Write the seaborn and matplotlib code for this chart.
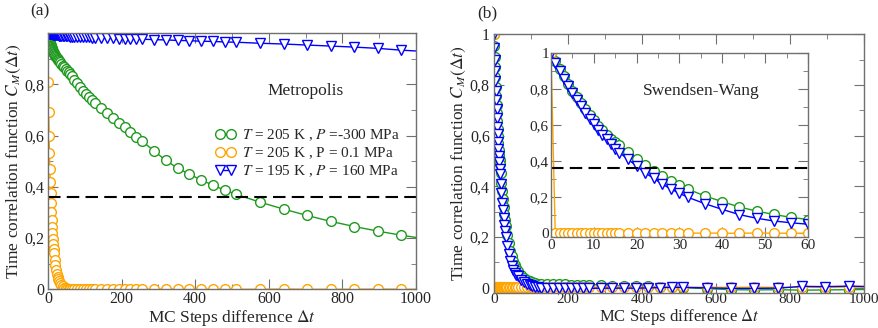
import numpy as np
import pandas as pd
import seaborn as sns
import matplotlib.pyplot as plt
from matplotlib.ticker import MultipleLocator, FuncFormatter

# 时间间隔 (multi-tau lags)
lag = [0, 1, 2, 3, 4, 5, 6, 7, 8, 9, 10, 11, 12, 13, 14, 15,
       16, 18, 20, 22, 24, 26, 28, 30,
       32, 36, 40, 44, 48, 52, 56, 60,
       64, 72, 80, 88, 96, 104, 112, 120,
       128, 144, 160, 176, 192, 208, 224, 240,
       256, 288, 320, 352, 384, 416, 448, 480,
       512, 576, 640, 704, 768, 832, 896, 960, 1024]

# (a) Metropolis
a_green = [1.000, 0.990, 0.982, 0.975, 0.969, 0.963, 0.958, 0.953, 0.948, 0.944, 0.940, 0.936, 0.932, 0.929, 0.926, 0.923,
           0.920, 0.915, 0.910, 0.905, 0.901, 0.897, 0.893, 0.889,
           0.886, 0.879, 0.872, 0.866, 0.860, 0.853, 0.847, 0.841,
           0.833, 0.818, 0.803, 0.789, 0.775, 0.762, 0.749, 0.737,
           0.726, 0.706, 0.687, 0.668, 0.650, 0.632, 0.614, 0.596,
           0.578, 0.540, 0.503, 0.473, 0.449, 0.427, 0.406, 0.387,
           0.370, 0.340, 0.313, 0.288, 0.265, 0.245, 0.227, 0.211, 0.197]
a_orange = [1.000, 0.810, 0.690, 0.600, 0.530, 0.470, 0.420, 0.375, 0.335, 0.300, 0.270, 0.242, 0.218, 0.196, 0.176, 0.158,
            0.142, 0.115, 0.093, 0.075, 0.061, 0.049, 0.040, 0.032,
            0.026, 0.017, 0.011, 0.007, 0.005, 0.003, 0.002, 0.002,
            0.001, 0.001, 0.001, 0.000, 0.001, 0.000, 0.000, 0.001,
            0.000, 0.001, 0.000, 0.000, 0.001, 0.000, 0.000, 0.001,
            0.000, 0.000, 0.001, 0.000, 0.000, 0.000, 0.001, 0.000,
            0.000, 0.000, 0.001, 0.000, 0.000, 0.000, 0.001, 0.000, 0.000]
a_blue = [1.000, 0.999, 0.999, 0.998, 0.998, 0.997, 0.997, 0.997, 0.996, 0.996, 0.996, 0.995, 0.995, 0.995, 0.994, 0.994,
          0.994, 0.993, 0.993, 0.992, 0.992, 0.991, 0.991, 0.990,
          0.990, 0.989, 0.989, 0.988, 0.988, 0.987, 0.987, 0.986,
          0.986, 0.985, 0.985, 0.984, 0.984, 0.983, 0.983, 0.982,
          0.982, 0.981, 0.980, 0.979, 0.978, 0.978, 0.977, 0.976,
          0.976, 0.974, 0.973, 0.971, 0.970, 0.968, 0.967, 0.965,
          0.964, 0.960, 0.957, 0.953, 0.949, 0.945, 0.940, 0.933, 0.928]

# (b) Swendsen-Wang
b_green = [1.000, 0.953, 0.912, 0.870, 0.830, 0.792, 0.756, 0.721, 0.688, 0.657, 0.627, 0.598, 0.571, 0.545, 0.522, 0.505,
           0.490, 0.452, 0.415, 0.381, 0.348, 0.319, 0.292, 0.268,
           0.245, 0.207, 0.176, 0.146, 0.124, 0.105, 0.089, 0.077,
           0.066, 0.050, 0.039, 0.031, 0.025, 0.021, 0.018, 0.016,
           0.015, 0.014, 0.013, 0.013, 0.013, 0.012, 0.012, 0.012,
           0.012, 0.011, 0.008, 0.006, 0.006, 0.005, 0.003, 0.002,
           0.000, -0.004, -0.008, -0.009, -0.008, -0.010, -0.009, -0.008, -0.007]
b_orange = [1.000, 0.002, 0.001, 0.002, 0.001, 0.002, 0.001, 0.001, 0.002, 0.001, 0.002, 0.001, 0.001, 0.002, 0.001, 0.001,
            0.002, 0.001, 0.001, 0.002, 0.001, 0.001, 0.002, 0.001,
            0.001, 0.002, 0.001, 0.001, 0.002, 0.001, 0.001, 0.001,
            0.002, 0.001, 0.002, 0.001, 0.001, 0.002, 0.001, 0.001,
            0.002, 0.001, 0.001, 0.002, 0.001, 0.001, 0.002, 0.001,
            0.001, 0.002, 0.001, 0.001, 0.001, 0.002, 0.001, 0.002,
            0.001, 0.002, 0.001, 0.002, 0.001, 0.002, 0.001, 0.002, 0.001]
b_blue = [1.000, 0.945, 0.898, 0.855, 0.815, 0.777, 0.740, 0.704, 0.668, 0.636, 0.605, 0.575, 0.547, 0.521, 0.495, 0.470,
          0.448, 0.410, 0.374, 0.335, 0.305, 0.273, 0.246, 0.222,
          0.200, 0.164, 0.133, 0.104, 0.084, 0.069, 0.059, 0.051,
          0.045, 0.032, 0.022, 0.015, 0.010, 0.006, 0.003, 0.001,
          0.000, -0.002, -0.003, -0.003, -0.003, -0.003, -0.003, -0.003,
          -0.003, -0.002, -0.002, -0.002, -0.002, -0.001, 0.000, 0.001,
          0.001, -0.001, -0.003, -0.003, -0.002, 0.005, 0.004, 0.006, 0.004]

labels = [r'$T$ = 205 K , $P$ =-300 MPa',
          r'$T$ = 205 K , P = 0.1 MPa',
          r'$T$ = 195 K , $P$ = 160 MPa']
colors = ['#1f9a1f', '#ffa500', '#0000ff']
markers = ['o', 'o', 'v']
one_over_e = 0.36

sns.set_style('ticks')
plt.rcParams['font.family'] = ['Liberation Serif', 'DejaVu Serif']
plt.rcParams['mathtext.fontset'] = 'stix'
frame_col = '#707070'


def comma_fmt(v, pos):
    if abs(v) < 1e-9:
        return '0'
    if abs(v - 1) < 1e-9:
        return '1'
    return ('%.1f' % v).replace('.', ',')


def draw_series(ax, ys, with_labels=False):
    for i, y in enumerate(ys):
        d = pd.DataFrame({'lag': lag, 'C': y})
        sns.lineplot(data=d, x='lag', y='C', ax=ax, color=colors[i], marker=markers[i],
                     markersize=7, markerfacecolor='white', markeredgecolor=colors[i],
                     markeredgewidth=1.0, linewidth=1.0, estimator=None, errorbar=None,
                     label=labels[i] if with_labels else None, legend=False)


def style_axes(ax, xmaj, xmin, fs=11.5, pad=1.5):
    ax.xaxis.set_major_locator(MultipleLocator(xmaj))
    ax.xaxis.set_minor_locator(MultipleLocator(xmin))
    ax.yaxis.set_major_locator(MultipleLocator(0.2))
    ax.yaxis.set_minor_locator(MultipleLocator(0.1))
    ax.yaxis.set_major_formatter(FuncFormatter(comma_fmt))
    ax.tick_params(which='both', direction='in', top=True, right=True,
                   color=frame_col, labelsize=fs, pad=pad)
    ax.tick_params(which='major', length=7)
    ax.tick_params(which='minor', length=3.5)
    for s in ax.spines.values():
        s.set_color(frame_col)
        s.set_linewidth(1.0)
    ax.set_xlabel('')
    ax.set_ylabel('')


fig = plt.figure(figsize=(8.79, 3.28), dpi=100)

# ---------- (a) ----------
ax1 = fig.add_axes([0.0546, 0.118, 0.4187, 0.7814])
draw_series(ax1, [a_green, a_orange, a_blue], with_labels=True)
ax1.axhline(one_over_e, color='black', lw=1.5, ls=(0, (6, 3)))
ax1.set_xlim(0, 1000)
ax1.set_ylim(0, 1.0)
style_axes(ax1, 200, 100)
ax1.tick_params(axis='y', pad=2.5)
ax1.set_yticks([0, 0.2, 0.4, 0.6, 0.8])
ax1.set_xlabel(r'MC Steps difference $\Delta t$', fontsize=12.5, labelpad=0.5)
ax1.set_ylabel(r'Time correlation function $C_M(\Delta t)$', fontsize=12.5, labelpad=1)
ax1.text(700, 0.775, 'Metropolis', fontsize=12.5, ha='center', va='center')
ax1.legend(loc='upper left', bbox_to_anchor=(0.455, 0.63), frameon=False,
           borderaxespad=0, borderpad=0, numpoints=2, handlelength=1.3,
           handletextpad=0.45, labelspacing=0.15, fontsize=11)

# ---------- (b) ----------
ax2 = fig.add_axes([0.562, 0.1076, 0.4209, 0.7878])
draw_series(ax2, [b_green, b_orange, b_blue])
ax2.set_xlim(0, 1000)
ax2.set_ylim(-0.02, 1.0)
style_axes(ax2, 200, 100, pad=1)
ax2.tick_params(axis='x', pad=0.5, labelsize=11)
ax2.tick_params(axis='y', pad=3)
ax2.set_xlabel(r'MC Steps difference $\Delta t$', fontsize=12)
ax2.xaxis.set_label_coords(0.5, -0.057)
ax2.set_ylabel(r'Time correlation function $C_M(\Delta t)$', fontsize=12.5, labelpad=1)

# inset
ax3 = fig.add_axes([0.6268, 0.2774, 0.2924, 0.561])
draw_series(ax3, [b_green, b_orange, b_blue])
ax3.axhline(one_over_e, color='black', lw=1.5, ls=(0, (6, 3)))
ax3.set_xlim(0, 60)
ax3.set_ylim(-0.02, 1.0)
style_axes(ax3, 10, 5, fs=11)
ax3.text(35, 0.79, 'Swendsen-Wang', fontsize=12.5, ha='center', va='center')

fig.text(0.034, 0.965, '(a)', fontsize=12.5, ha='left', va='center')
fig.text(0.543, 0.958, '(b)', fontsize=12.5, ha='left', va='center')

fig.savefig('out.png', dpi=100)
